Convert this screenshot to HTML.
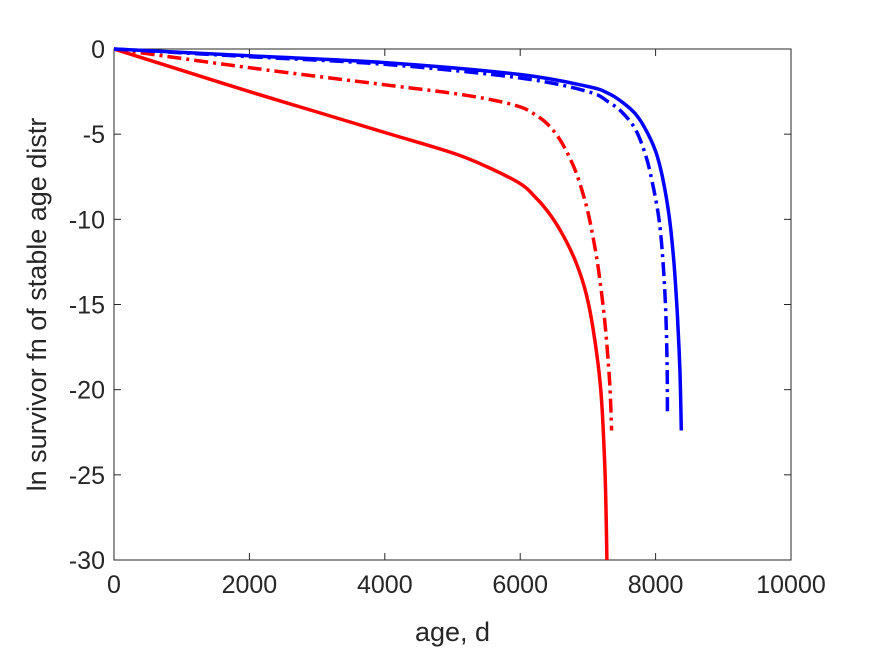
<!DOCTYPE html>
<html><head><meta charset="utf-8"><style>body{margin:0;background:#fff}svg text{font-family:"Liberation Sans",sans-serif;fill:#262626}</style></head>
<body>
<svg id="chart" width="875" height="656" viewBox="0 0 875 656" xmlns="http://www.w3.org/2000/svg">
<rect width="875" height="656" fill="#fff"/>
<g id="plot"></g>
</svg>
<script>
const xTicks=[0,2000,4000,6000,8000,10000];
const yTicks=[0,-5,-10,-15,-20,-25,-30];
const redSolidX=[0,1000,2000,3000,4000,5000,5500,6000,6200,6400,6600,6800,6950,7050,7150,7200,7240,7265,7280];
const redSolidY=[0,-1.25,-2.5,-3.7,-4.9,-6.1,-6.9,-7.9,-8.6,-9.5,-10.7,-12.3,-14,-15.8,-18.5,-20.5,-23.5,-26.5,-30];
const redDashX=[0,2000,4000,5000,5600,6000,6200,6400,6600,6800,6950,7050,7150,7250,7320,7350];
const redDashY=[0,-1.1,-2.1,-2.6,-3,-3.4,-3.8,-4.4,-5.4,-7,-8.8,-10.5,-12.8,-16,-19.5,-22.4];
const blueSolidX=[0,2000,4000,6000,7000,7300,7500,7700,7850,8000,8100,8200,8270,8320,8360,8380];
const blueSolidY=[0,-0.4,-0.8,-1.5,-2.2,-2.6,-3.1,-3.8,-4.7,-6,-7.5,-9.8,-12.5,-15.5,-19,-22.4];
const blueDashX=[0,2000,4000,6000,7000,7300,7500,7700,7850,7950,8050,8110,8150,8170,8175];
const blueDashY=[0,-0.45,-0.9,-1.7,-2.5,-3.1,-3.7,-4.7,-6.2,-7.8,-10,-12.5,-15.5,-18.5,-21.3];
const L=114,R=791,T=49,B=560;
const sx=v=>L+(v-0)/10000*(R-L);
const sy=v=>T+(0-v)/30*(B-T);
const g=document.getElementById('plot');
const NS='http://www.w3.org/2000/svg';
function mk(t,a){const e=document.createElementNS(NS,t);for(const k in a)e.setAttribute(k,a[k]);g.appendChild(e);return e;}
const box=mk('rect',{x:L,y:T,width:R-L,height:B-T,fill:'none',stroke:'#262626','stroke-width':1});


xTicks.forEach(v=>{
 const l=mk('line',{x1:sx(v),x2:sx(v),y1:B,y2:B-7,stroke:'#262626'});
 
 
 mk('line',{x1:sx(v),x2:sx(v),y1:T,y2:T+7,stroke:'#262626'});
 const t=mk('text',{x:sx(v),y:B+33,'text-anchor':'middle','font-size':25});t.textContent=v;
 
 
});
yTicks.forEach(v=>{
 const l=mk('line',{x1:L,x2:L+7,y1:sy(v),y2:sy(v),stroke:'#262626'});
 
 
 mk('line',{x1:R,x2:R-7,y1:sy(v),y2:sy(v),stroke:'#262626'});
 const t=mk('text',{x:L-9,y:sy(v)+9,'text-anchor':'end','font-size':25});t.textContent=v;
 
 
});
const xt=mk('text',{x:(L+R)/2,y:641,'text-anchor':'middle','font-size':27});xt.textContent='age, d';


const yt=mk('text',{x:0,y:0,'text-anchor':'middle','font-size':27,transform:`translate(46,${(T+B)/2}) rotate(-90)`});yt.textContent='ln survivor fn of stable age distr';


function series(xs,ys,color,dash,name){
 const P=xs.map((x,i)=>[sx(x),sy(ys[i])]);
 let d='M'+P[0][0].toFixed(1)+','+P[0][1].toFixed(1);
 for(let i=0;i<P.length-1;i++){
  const p0=P[Math.max(0,i-1)],p1=P[i],p2=P[i+1],p3=P[Math.min(P.length-1,i+2)];
  const c1=[p1[0]+(p2[0]-p0[0])/6,p1[1]+(p2[1]-p0[1])/6];
  const c2=[p2[0]-(p3[0]-p1[0])/6,p2[1]-(p3[1]-p1[1])/6];
  d+='C'+c1.map(v=>v.toFixed(1)).join(',')+' '+c2.map(v=>v.toFixed(1)).join(',')+' '+p2.map(v=>v.toFixed(1)).join(',');
 }
 const p=mk('path',{d,fill:'none',stroke:color,'stroke-width':3.5,'stroke-dasharray':dash?'14,5,3,5':'none','stroke-linejoin':'round'});
 
 
}
series(redSolidX,redSolidY,'#ff0000',false,'red-solid-line');
series(redDashX,redDashY,'#ff0000',true,'red-dashdot-line');
series(blueSolidX,blueSolidY,'#0000ff',false,'blue-solid-line');
series(blueDashX,blueDashY,'#0000ff',true,'blue-dashdot-line');
</script>
</body></html>
